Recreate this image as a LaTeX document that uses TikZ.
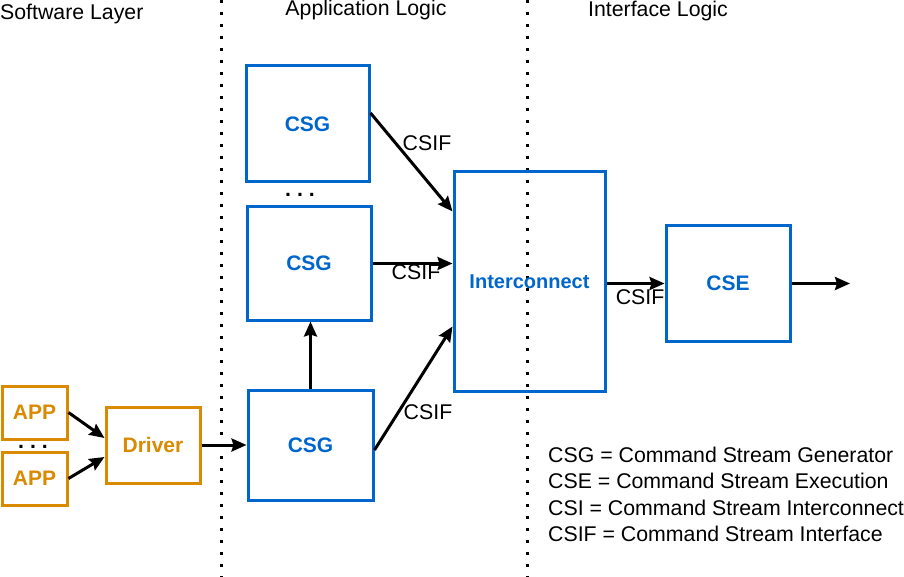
\documentclass[tikz,border=0pt]{standalone}
\usepackage{fontspec}
\setmainfont{Liberation Sans}
\usetikzlibrary{arrows.meta,calc,positioning}
\definecolor{csblue}{HTML}{0066CC}
\definecolor{csorange}{HTML}{D98A00}
\tikzset{>={Stealth[length=15pt,width=13pt,inset=2pt]}}
\tikzset{blk/.style={draw=csblue, text=csblue, line width=3pt, inner sep=0pt, font=\fontsize{21}{24}\selectfont\bfseries}}
\tikzset{swblk/.style={blk, draw=csorange, text=csorange}}
\tikzset{lbl/.style={inner sep=0pt, font=\fontsize{21.3}{24}\selectfont}}
\tikzset{flow/.style={->, line width=3pt}}
\tikzset{sep/.style={line width=3pt, dash pattern=on 3pt off 9pt}}

\begin{document}
\begin{tikzpicture}[x=1pt,y=-1pt]
      \useasboundingbox (0,0) rectangle (904,577);
      % layer separators
      \coordinate (s1top) at (221,0);
      \coordinate (s1bot) at (221,577);
      \coordinate (s2top) at (527,0);
      \coordinate (s2bot) at (527,577);
      \draw[sep] (s1top) -- (s1bot);
      \draw[sep] (s2top) -- (s2bot);
      \node[lbl, anchor=base west] (hsw) at (0,20) {Software Layer};
      \node[lbl, anchor=base] (happ) at (366,16) {Application Logic};
      \node[lbl, anchor=base] (hif) at (658,17) {Interface Logic};
      % software layer
      \node[swblk, minimum width=65pt, minimum height=53pt] (app1) at (34.5,412.5) {APP};
      \node[swblk, minimum width=65pt, minimum height=53pt] (app2) at (34.5,478.5) {APP};
      \node[lbl, anchor=base, font=\fontsize{21.3}{24}\selectfont\bfseries] (dots2) at (33,448) {.\ .\ .};
      \node[swblk, minimum width=94pt, minimum height=76pt] (drv) at (153,445) {Driver};
      % application logic
      \node[blk, minimum width=123pt, minimum height=116pt] (csg1) at (307.5,124) {CSG};
      \node[lbl, anchor=base, font=\fontsize{21.3}{24}\selectfont\bfseries] (dots1) at (300,197) {.\ .\ .};
      \node[blk, minimum width=124pt, minimum height=113pt] (csg2) at (309,263.5) {CSG};
      \node[blk, minimum width=125pt, minimum height=110pt] (csg3) at (310.5,445) {CSG};
      \node[blk, minimum width=151pt, minimum height=219pt, font=\fontsize{20}{24}\selectfont\bfseries] (icn) at (529.5,281.5) {Interconnect};
      % interface logic
      \node[blk, minimum width=124pt, minimum height=115pt] (cse) at (728,283.5) {CSE};
      \coordinate (out) at (850,283.5);
      % connections
      \draw[flow] (app1.east) -- ($(drv.west)+(0,-7)$);
      \draw[flow] (app2.east) -- ($(drv.west)+(0,12)$);
      \draw[flow] (drv.east) -- (csg3.west);
      \draw[flow] (csg3.north) -- (csg3.north |- csg2.south);
      \draw[flow] ($(csg1.east)+(0,-11)$) -- ($(icn.west)+(0,-70)$);
      \draw[flow] (csg2.east) -- (csg2.east -| icn.west);
      \draw[flow] ($(csg3.east)+(0,5)$) -- ($(icn.west)+(0,45)$);
      \draw[flow] (icn.east |- cse.west) -- (cse.west);
      \draw[flow] (cse.east) -- (out);
      \node[lbl] (csif1) at (427,143) {CSIF};
      \node[lbl] (csif2) at (416,272) {CSIF};
      \node[lbl] (csif3) at (428,412) {CSIF};
      \node[lbl] (csif4) at (640,297) {CSIF};
      % legend
      \node[lbl, anchor=base west] (leg1) at (548,462) {CSG = Command Stream Generator};
      \node[lbl, anchor=base west] (leg2) at (548,488.5) {CSE = Command Stream Execution};
      \node[lbl, anchor=base west] (leg3) at (548,515) {CSI = Command Stream Interconnect};
      \node[lbl, anchor=base west] (leg4) at (548,541.5) {CSIF = Command Stream Interface};
    \end{tikzpicture}
\end{document}
